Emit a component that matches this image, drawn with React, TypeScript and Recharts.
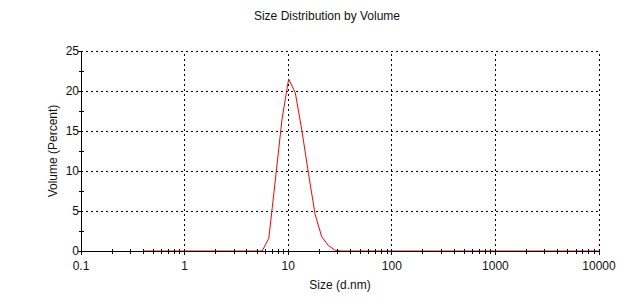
import { LineChart, Line, XAxis, YAxis, ReferenceLine } from "recharts";

// size bins (d.nm) and volume (%)
const sizes = [0.4, 5.615, 6.503, 7.531, 8.721, 10.1, 11.7, 13.54, 15.69, 18.17, 21.04, 24.36, 28.21, 32.67, 10000];
const volume = [0, 0, 1.6, 9.0, 16.5, 21.5, 19.8, 15.1, 9.7, 4.6, 1.8, 0.7, 0.1, 0, 0];

const xMajorTicks = [0.1, 1, 10, 100, 1000, 10000];
const xMinorSteps = [2, 3, 4, 5, 6, 7, 8, 9];
const yTicks = [0, 2.5, 5, 7.5, 10, 12.5, 15, 17.5, 20, 22.5, 25];
const yMajorTicks = [0, 5, 10, 15, 20, 25];

const data = sizes.map((s, i) => ({ size: s, volume: volume[i] }));

// decades plus the small in-between ticks
const xTicks = [
    ...xMajorTicks,
    ...xMajorTicks.slice(0, -1).flatMap((d) => xMinorSteps.map((m) => +(d * m).toPrecision(6))),
].sort((a, b) => a - b);

const FONT = '"Liberation Sans", Arial, sans-serif';
const TEXT = "#111";
const GRID = { stroke: "#000", strokeDasharray: "2 3", strokeWidth: 1, shapeRendering: "crispEdges" };

const XTick = ({ x, y, payload }: any) => {
    const major = xMajorTicks.includes(payload.value);
    return (
        <g>
            <line
                x1={x}
                x2={x}
                y1={y - 2}
                y2={y + (major ? 4 : 3)}
                stroke="#000"
                shapeRendering="crispEdges"
            />
            {major && (
                <text x={x} y={y + 19} textAnchor="middle" fontSize={12} fontFamily={FONT} fill={TEXT}>
                    {payload.value}
                </text>
            )}
        </g>
    );
};

const YTick = ({ x, y, payload }: any) => {
    const major = yMajorTicks.includes(payload.value);
    return (
        <g>
            <line
                x1={major ? x - 3 : x - 2}
                x2={major ? x + 1 : x + 3}
                y1={y}
                y2={y}
                stroke="#000"
                shapeRendering="crispEdges"
            />
            {major && (
                <text x={x - 2} y={y + 4} textAnchor="end" fontSize={12} fontFamily={FONT} fill={TEXT}>
                    {payload.value}
                </text>
            )}
        </g>
    );
};

export default function App() {
    return (
        <div
            style={{
                position: "absolute",
                left: 0,
                top: 0,
                width: 623,
                height: 299,
                background: "#fff",
                fontFamily: FONT,
            }}
        >
            <div
                style={{
                    position: "absolute",
                    left: 227,
                    top: 9,
                    width: 200,
                    textAlign: "center",
                    fontSize: 12,
                    lineHeight: "14px",
                    color: TEXT,
                }}
            >
                Size Distribution by Volume
            </div>
            <LineChart
                width={623}
                height={299}
                data={data}
                margin={{ top: 51, right: 24, bottom: 0, left: 0 }}
            >
                <XAxis
                    dataKey="size"
                    type="number"
                    scale="log"
                    domain={[0.1, 10000]}
                    allowDataOverflow
                    ticks={xTicks}
                    interval={0}
                    height={48}
                    tickLine={false}
                    tickSize={0}
                    tickMargin={0}
                    tick={<XTick />}
                    axisLine={{ stroke: "#000", shapeRendering: "crispEdges" }}
                    label={{
                        value: "Size (d.nm)",
                        position: "insideBottom",
                        offset: 10,
                        fontSize: 12,
                        fill: TEXT,
                    }}
                />
                <YAxis
                    type="number"
                    domain={[0, 25]}
                    ticks={yTicks}
                    interval={0}
                    width={81}
                    tickLine={false}
                    tickSize={0}
                    tickMargin={0}
                    tick={<YTick />}
                    axisLine={{ stroke: "#000", shapeRendering: "crispEdges" }}
                    label={{
                        value: "Volume (Percent)",
                        angle: -90,
                        position: "center",
                        dx: 12,
                        fontSize: 12,
                        fill: TEXT,
                    }}
                />
                {xMajorTicks.slice(1).map((v) => (
                    <ReferenceLine key={"x" + v} x={v} {...GRID} />
                ))}
                {yMajorTicks.slice(1).map((v) => (
                    <ReferenceLine key={"y" + v} y={v} {...GRID} />
                ))}
                <Line
                    type="linear"
                    dataKey="volume"
                    stroke="#ff0000"
                    strokeWidth={1}
                    dot={false}
                    activeDot={false}
                    isAnimationActive={false}
                />
            </LineChart>
        </div>
    );
}
